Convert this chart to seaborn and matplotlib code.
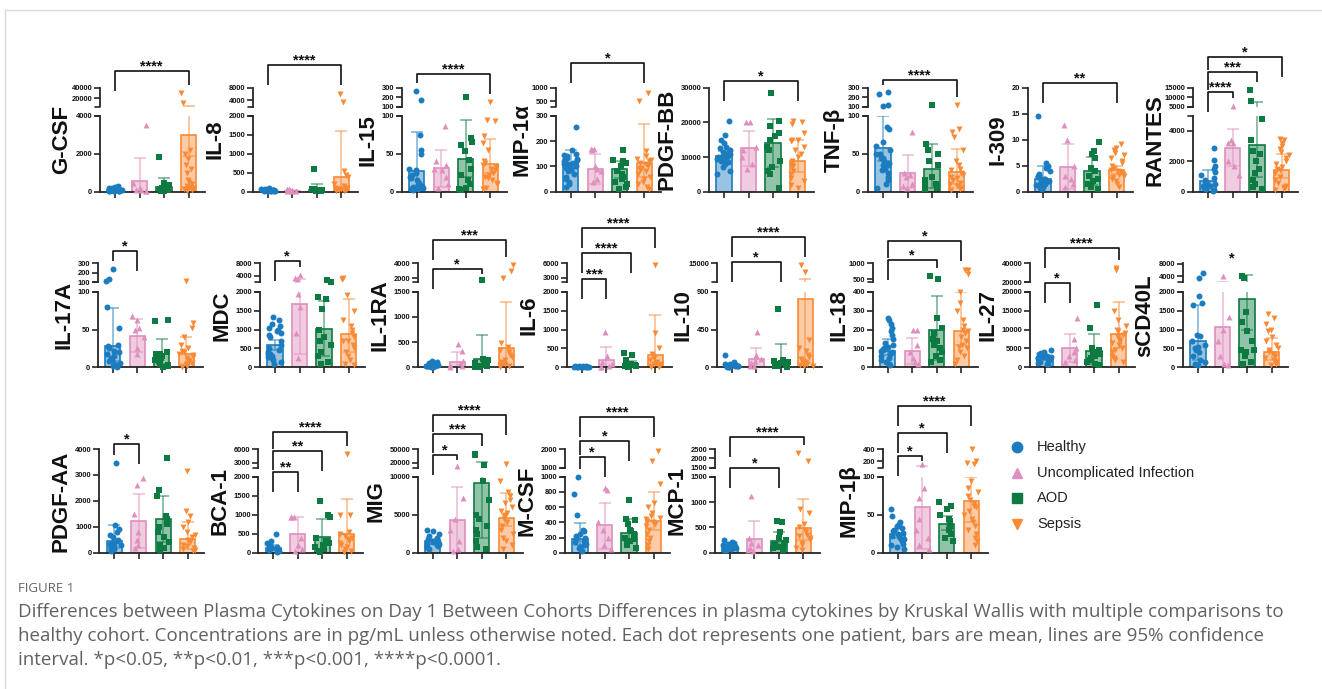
import numpy as np
import pandas as pd
import matplotlib
matplotlib.use("Agg")
import matplotlib.pyplot as plt
from matplotlib.lines import Line2D
from matplotlib.colors import to_rgba
import seaborn as sns

GROUPS = ["Healthy", "Uncomplicated Infection", "AOD", "Sepsis"]
COLORS = ["#1b7cc0", "#df8fbe", "#0c7a41", "#f98a35"]
MARKERS = ["o", "^", "s", "v"]

names = ["G-CSF", "IL-8", "IL-15", "MIP-1α", "PDGF-BB", "TNF-β", "I-309", "RANTES",
         "IL-17A", "MDC", "IL-1RA", "IL-6", "IL-10", "IL-18", "IL-27", "sCD40L",
         "PDGF-AA", "BCA-1", "MIG", "M-CSF", "MCP-1", "MIP-1β"]

means = [[110, 550, 230, 3000], [30, 30, 50, 380], [27, 31, 43, 37], [113, 90, 88, 113],
         [10300, 12500, 14000, 8800], [57, 25, 30, 26], [2.5, 4.8, 3.9, 4.2], [700, 2900, 3100, 1450],
         [28, 42, 18, 18], [590, 1670, 1020, 890], [40, 110, 160, 390], [15, 180, 70, 320],
         [20, 100, 65, 815], [84, 85, 195, 190], [2550, 5050, 4300, 8800], [685, 1070, 1800, 395],
         [455, 1225, 1295, 530], [122, 482, 410, 490], [1480, 4300, 9200, 4520], [180, 362, 262, 420],
         [112, 262, 238, 480], [25, 60, 38, 68]]

ci_lo = [[60, 0, 0, 1900], [20, 15, 0, 0], [5, 6, 20, 25], [95, 30, 55, 60],
         [9200, 7500, 7000, 5800], [40, 5, 5, 10], [1.5, 0.5, 1.2, 3.5], [400, 1700, 1000, 900],
         [8, 20, 5, 5], [450, 350, 300, 400], [25, 0, 0, 0], [8, 0, 0, 0],
         [5, 0, 0, 0], [65, 15, 40, 120], [2000, 1500, 1000, 5000], [200, 0, 1000, 200],
         [200, 200, 400, 150], [60, 0, 0, 0], [1200, 0, 2000, 3500], [100, 50, 150, 300],
         [90, 0, 100, 250], [20, 5, 30, 40]]

ci_hi = [[170, 1780, 730, 4100], [45, 50, 210, 1610], [79, 55, 95, 70], [165, 148, 120, 268],
         [11800, 17500, 21000, 14800], [100, 48, 63, 56], [5, 9.2, 6.7, 4.9], [1450, 4150, 7500, 2450],
         [79, 64, 38, 40], [720, 3000, 1750, 1800], [60, 310, 640, 1300], [25, 540, 170, 1380],
         [40, 230, 280, 3000], [148, 155, 375, 400], [3100, 8800, 8700, 17200], [1660, 2200, 4300, 770],
         [1050, 2250, 2200, 1180], [200, 950, 880, 1420], [1800, 8600, 21000, 7900], [390, 660, 450, 795],
         [150, 620, 410, 1055], [31, 120, 48, 100]]

healthy_pts = [
    [20, 40, 60, 80, 100, 120, 150, 180, 200, 250, 300, 60, 90, 30, 110, 70, 140, 50],
    [10, 20, 30, 40, 50, 60, 80, 100, 20, 15, 30, 45, 25, 35],
    [260, 165, 75, 55, 50, 30, 28, 25, 20, 15, 10, 8, 5, 3, 2, 12, 18, 6, 4, 22],
    [255, 165, 150, 145, 140, 135, 130, 125, 120, 115, 110, 105, 100, 95, 90, 85, 80, 70, 60, 50, 40, 30, 20, 130, 100, 120, 110],
    [20500, 16500, 15000, 14000, 13000, 12500, 12000, 11500, 11000, 10500, 10000, 9500, 9000, 8500, 8000, 7000, 6000, 5000, 11000, 10000, 9500, 10500, 9000, 12000],
    [250, 230, 120, 110, 85, 82, 65, 60, 55, 50, 45, 40, 38, 35, 30, 28, 25, 20, 15, 10, 5, 50, 45, 35],
    [14.5, 5.5, 5, 4.5, 4, 3.5, 3, 2.8, 2.5, 2.2, 2, 1.8, 1.5, 1.2, 1, 0.8, 0.5, 2, 3, 2.5, 1.5],
    [2850, 2100, 1700, 1500, 1300, 1100, 900, 800, 700, 600, 500, 400, 300, 200, 100, 50, 350, 250],
    [240, 130, 110, 80, 52, 30, 28, 25, 20, 15, 12, 10, 8, 5, 3, 2, 1, 18, 22, 6],
    [1330, 1250, 1150, 1100, 1000, 950, 900, 850, 800, 700, 600, 500, 450, 400, 350, 300, 250, 200, 150, 100, 1050, 300, 350, 280],
    [130, 100, 80, 60, 50, 40, 30, 20, 10, 5, 70, 45, 35, 25],
    [40, 30, 25, 20, 15, 10, 5, 3, 18, 12, 8, 22],
    [150, 60, 40, 30, 25, 20, 15, 10, 5, 3, 35, 12, 8],
    [260, 250, 230, 210, 190, 170, 150, 130, 120, 110, 100, 90, 80, 70, 60, 50, 40, 30, 20, 10, 95, 85],
    [4500, 4000, 3800, 3500, 3200, 3000, 2800, 2500, 2200, 2000, 1800, 1500, 1200, 1000, 800, 3300, 2700, 2400],
    [5000, 3500, 1880, 1700, 1650, 860, 820, 600, 500, 450, 400, 300, 200, 150, 100, 50, 700, 550],
    [3470, 1050, 900, 800, 700, 600, 500, 400, 350, 300, 250, 200, 150, 100, 50, 450],
    [480, 300, 250, 200, 150, 120, 100, 80, 60, 40, 20, 170],
    [3000, 2800, 2500, 2200, 2000, 1800, 1600, 1400, 1200, 1000, 900, 800, 700, 500, 1500, 1100],
    [1000, 770, 500, 300, 280, 250, 220, 200, 180, 160, 140, 120, 100, 80, 60, 40, 20],
    [250, 220, 200, 180, 160, 140, 120, 100, 90, 80, 70, 60, 50, 130, 110],
    [57, 48, 40, 38, 35, 32, 30, 28, 25, 22, 20, 18, 15, 12, 10, 8, 5, 26, 23],
]

uncomp_pts = [
    [3500, 450, 80, 50, 100, 200, 30],
    [70, 60, 40, 20, 10, 30, 50],
    [87, 35, 30, 28, 20, 10, 5, 40],
    [168, 168, 165, 100, 80, 40, 50, 90],
    [20000, 20000, 13000, 12000, 10000, 8000, 6500],
    [78, 25, 22, 20, 10, 8, 5],
    [12.8, 10, 5, 3, 2.5, 1.5, 1],
    [5300, 3400, 3200, 3200, 2000, 1700, 1100],
    [68, 62, 52, 50, 40, 25, 18],
    [4200, 3500, 3000, 1950, 1600, 900, 250],
    [460, 330, 120, 50, 20, 10, 80],
    [930, 300, 150, 80, 40, 20, 10],
    [420, 150, 100, 80, 50, 20, 10],
    [200, 200, 120, 80, 50, 30, 15],
    [13000, 7500, 5000, 4000, 3000, 2000, 1500],
    [4000, 1330, 1000, 700, 300, 100, 50],
    [2900, 2600, 1500, 800, 500, 300, 200],
    [950, 950, 950, 400, 200, 100, 50],
    [13500, 7200, 4500, 3000, 1500, 500, 200],
    [850, 830, 400, 300, 200, 100, 50],
    [1120, 300, 200, 150, 100, 50, 30],
    [160, 85, 72, 45, 30, 20, 10, 5],
]

aod_pts = [
    [1820, 480, 300, 250, 150, 120, 100, 60, 40, 200, 350, 80, 30],
    [600, 80, 60, 40, 30, 20, 10, 50, 30, 20, 40],
    [200, 71, 65, 62, 54, 42, 30, 22, 15, 10, 5, 2, 3],
    [165, 125, 120, 115, 100, 80, 70, 60, 50, 40, 30, 20, 10],
    [28500, 20500, 19000, 17000, 16000, 15000, 13000, 12000, 9000, 7000, 6000, 5000, 1000],
    [115, 63, 55, 50, 40, 35, 20, 15, 10, 8, 5, 3],
    [9.5, 7.8, 7.3, 6.5, 4.5, 4, 3, 2.5, 2, 1.5, 1, 0.5],
    [14000, 8000, 4800, 3400, 2700, 2000, 1500, 1200, 800, 500, 300, 200, 2500],
    [62, 61, 20, 18, 17, 15, 12, 10, 8, 5, 3, 2, 1],
    [2800, 2220, 1850, 1800, 1550, 1000, 800, 700, 400, 300, 150, 100, 600],
    [1800, 170, 150, 100, 80, 50, 30, 20, 10, 5, 60],
    [380, 320, 180, 100, 60, 40, 30, 20, 10, 5, 50],
    [700, 90, 70, 60, 50, 40, 30, 20, 10, 5, 40],
    [600, 520, 260, 210, 180, 150, 120, 100, 80, 60, 40, 30, 140],
    [16500, 10500, 5000, 4500, 4000, 3500, 3000, 2500, 2000, 1500, 1000, 600],
    [4200, 3300, 1450, 950, 700, 470, 450, 400, 300, 150, 100, 1200],
    [3650, 2400, 2200, 1400, 1100, 1000, 800, 600, 400, 300, 200, 100, 1300],
    [1370, 1000, 950, 400, 300, 200, 150, 100, 50, 30, 250],
    [40000, 37000, 16000, 9500, 7000, 5000, 4500, 3500, 2500, 1500, 800, 500, 3000],
    [700, 450, 430, 380, 300, 280, 250, 200, 180, 150, 120, 100, 60],
    [620, 600, 400, 300, 260, 200, 180, 150, 120, 100, 80, 50],
    [67, 61, 57, 50, 45, 42, 38, 35, 30, 25, 20, 15],
]

sepsis_pts = [
    [30000, 10000, 2200, 2000, 1700, 1400, 1200, 1000, 600, 400, 300, 200, 150, 100, 80, 60, 250, 500, 120],
    [6000, 3500, 550, 450, 400, 200, 100, 80, 60, 40, 30, 20, 150, 90, 50, 70],
    [150, 95, 93, 73, 64, 55, 40, 38, 35, 30, 25, 22, 20, 18, 15, 12, 10, 5, 3, 28, 33],
    [800, 500, 160, 130, 125, 120, 110, 100, 95, 90, 85, 80, 70, 60, 50, 40, 30, 20, 10, 140, 115],
    [20500, 20000, 19500, 17000, 15000, 14500, 13000, 12000, 11000, 10000, 9000, 8000, 7000, 6000, 5000, 4000, 3000, 2000, 1000, 15000, 7500],
    [120, 82, 78, 72, 55, 40, 35, 30, 28, 25, 22, 20, 18, 15, 12, 10, 8, 5, 3, 2],
    [9.2, 8.5, 8, 7.5, 7, 6.5, 6, 5.5, 5, 4.5, 4, 3.8, 3.5, 3, 2.8, 2.5, 2, 1.5, 1, 4.2, 3.2],
    [3500, 3400, 3200, 3000, 2800, 2600, 2400, 2200, 2000, 1800, 1600, 1400, 1200, 1000, 800, 600, 400, 300, 200, 100, 1500],
    [110, 58, 52, 40, 30, 25, 20, 18, 16, 14, 12, 10, 8, 6, 4, 2, 1, 22],
    [3300, 3100, 2900, 1900, 1250, 1000, 900, 800, 700, 600, 500, 400, 300, 200, 100, 50, 1100, 1500, 700],
    [3800, 3000, 2000, 480, 400, 300, 250, 200, 150, 100, 80, 60, 40, 20, 10, 350],
    [5700, 900, 500, 350, 300, 250, 200, 150, 100, 80, 60, 40, 20, 10, 120],
    [13700, 8600, 330, 230, 200, 150, 100, 80, 60, 40, 30, 20, 10, 50, 120],
    [800, 800, 650, 400, 340, 300, 250, 220, 200, 180, 160, 140, 120, 100, 80, 60, 40, 20, 190, 110],
    [35000, 33000, 15000, 12500, 11000, 10000, 9000, 8500, 8000, 7000, 6500, 6000, 5000, 4500, 4000, 3000, 2500, 2000, 1500, 9500, 7500],
    [1420, 1300, 1150, 1000, 950, 800, 700, 600, 500, 450, 400, 350, 300, 250, 200, 150, 100, 50],
    [3150, 1600, 1400, 1200, 1000, 800, 700, 600, 500, 400, 300, 250, 200, 150, 100, 50],
    [5000, 1000, 980, 550, 500, 400, 350, 300, 250, 200, 150, 100, 50, 30, 450],
    [17000, 9500, 8000, 7500, 7000, 6500, 6000, 5500, 5000, 4500, 4000, 3500, 3000, 2500, 2000, 1500, 1000, 500, 4800, 5200],
    [1900, 1360, 900, 650, 480, 460, 440, 420, 400, 380, 350, 300, 250, 200, 150, 100, 50, 520, 600],
    [2260, 1860, 860, 780, 560, 500, 450, 400, 350, 300, 250, 200, 150, 100, 50, 320],
    [400, 210, 180, 160, 95, 85, 80, 75, 70, 65, 60, 55, 50, 45, 40, 35, 30, 25, 20, 15, 10, 62],
]

# broken y axes: lower segment 0..lower_max, upper segment upper_lim (None = not broken)
lower_max = [4000, 2000, 100, 300, 30000, 100, 20, 5000,
             100, 2000, 1500, 2000, 900, 400, 20000, 2000,
             4000, 2000, 10000, 1000, 1500, 100]
lower_ticks = [[0, 2000, 4000], [0, 500, 1000, 1500, 2000], [0, 50, 100], [0, 100, 200, 300],
               [0, 10000, 20000, 30000], [0, 50, 100], [0, 5, 10, 15, 20], [0, 2000, 4000],
               [0, 50, 100], [0, 500, 1000, 1500, 2000], [0, 500, 1000, 1500], [0, 500, 1000, 1500, 2000],
               [0, 450, 900], [0, 100, 200, 300, 400], [0, 5000, 10000, 15000, 20000], [0, 500, 1000, 1500, 2000],
               [0, 1000, 2000, 3000, 4000], [0, 500, 1000, 1500, 2000], [0, 5000, 10000],
               [0, 200, 400, 600, 800, 1000], [0, 500, 1000, 1500], [0, 50, 100]]
upper_lim = [(4000, 40000), (2000, 8000), (100, 300), (300, 1000), None, (100, 300), None, (5000, 15000),
             (100, 300), (2000, 8000), (1500, 4000), (2000, 6000), (900, 15000), (400, 1000), (20000, 40000), (2000, 8200),
             None, (2000, 6000), (10000, 50000), (1000, 2000), (1500, 2500), (100, 400)]
upper_ticks = [[20000, 40000], [4000, 8000], [100, 200, 300], [500, 1000], [], [100, 200, 300], [], [5000, 10000, 15000],
               [100, 200, 300], [4000, 8000], [2000, 4000], [3000, 6000], [15000], [500, 1000], [20000, 40000], [4000, 8000],
               [], [3000, 6000], [20000, 50000], [1000, 2000], [1500, 2000, 2500], [200, 400]]

# multiple comparisons vs healthy
sig_pairs = [
    [(0, 3, "****")], [(0, 3, "****")], [(0, 3, "****")], [(0, 3, "*")],
    [(0, 3, "*")], [(0, 3, "****")], [(0, 3, "**")],
    [(0, 1, "****"), (0, 2, "***"), (0, 3, "*")],
    [(0, 1, "*")], [(0, 1, "*")], [(0, 2, "*"), (0, 3, "***")],
    [(0, 1, "***"), (0, 2, "****"), (0, 3, "****")],
    [(0, 2, "*"), (0, 3, "****")], [(0, 2, "*"), (0, 3, "*")],
    [(0, 1, "*"), (0, 3, "****")], [],
    [(0, 1, "*")], [(0, 1, "**"), (0, 2, "**"), (0, 3, "****")],
    [(0, 1, "*"), (0, 2, "***"), (0, 3, "****")],
    [(0, 1, "*"), (0, 2, "*"), (0, 3, "****")],
    [(0, 2, "*"), (0, 3, "****")],
    [(0, 1, "*"), (0, 2, "*"), (0, 3, "****")],
]

# ---------------- layout (pixels) ----------------
W, H = 1322, 689
ROW_Y = [(87.7, 106.5, 115.7, 191.7), (263.3, 282.3, 291.7, 367.3), (449, 467.5, 476.7, 552.7)]
panel_row = [0] * 8 + [1] * 8 + [2] * 6
panel_x = [100, 252.7, 401.7, 555.7, 709, 868, 1028, 1193,
           97.7, 260, 417.7, 566.7, 716.7, 872.7, 1030, 1183,
           99.3, 258.3, 417.7, 565, 715, 882.7]
bracket_y = [[71], [65], [74], [63.3], [80.7], [80], [82.7], [91.7, 71.7, 57.3],
             [251], [261], [269.3, 240], [279, 253.3, 228.3], [261.7, 237.3], [260, 240.7], [282.7, 248.3], [],
             [444], [471.7, 450.7, 432.3], [455, 434, 415], [457.3, 440.7, 416.7], [467.7, 437.3], [455.7, 433.3, 405.7]]
UNIT = 24.5
XLIM = (-15 / UNIT, 3 + 16.5 / UNIT)
AX_W = (XLIM[1] - XLIM[0]) * UNIT
AXC = "#262626"
CAP = 6 / UNIT

np.random.seed(7)
sns.set_style("ticks")
plt.rcParams["font.family"] = ["Liberation Sans", "DejaVu Sans"]

fig = plt.figure(figsize=(W / 100, H / 100), dpi=100)


def fx(px):
    return px / W


def fy(py):
    return 1 - py / H


def add_ax(x, top, bottom):
    return fig.add_axes([fx(x), fy(bottom), AX_W / W, (bottom - top) / H])


def val_px(i, v):
    ut, ub, lt, z = ROW_Y[panel_row[i]]
    if upper_lim[i] is None:
        return z - v / lower_max[i] * (z - ut)
    if v <= lower_max[i]:
        return z - v / lower_max[i] * (z - lt)
    lo, hi = upper_lim[i]
    return ub - (v - lo) / (hi - lo) * (ub - ut)


def gx(i, g):
    return panel_x[i] + (g - XLIM[0]) * UNIT


def fig_line(xs, ys, **kw):
    fig.add_artist(Line2D([fx(v) for v in xs], [fy(v) for v in ys], **kw))


for i, name in enumerate(names):
    ut, ub, lt, z = ROW_Y[panel_row[i]]
    x0 = panel_x[i]
    broken = upper_lim[i] is not None
    ax = add_ax(x0, lt if broken else ut, z)
    segs = [(ax, 0, lower_max[i], lower_ticks[i])]
    if broken:
        ax_up = add_ax(x0, ut, ub)
        segs.append((ax_up, upper_lim[i][0], upper_lim[i][1], upper_ticks[i]))

    pts = [healthy_pts[i], uncomp_pts[i], aod_pts[i], sepsis_pts[i]]
    df = pd.DataFrame({"group": np.repeat(GROUPS, [len(p) for p in pts]),
                       "value": np.concatenate(pts).astype(float)})
    dm = pd.DataFrame({"group": GROUPS, "mean": means[i]})

    sns.barplot(data=dm, x="group", y="mean", order=GROUPS, hue="group", hue_order=GROUPS,
                palette=dict(zip(GROUPS, COLORS)), width=0.62, errorbar=None,
                legend=False, saturation=1, ax=ax)
    for p in ax.patches:
        g = int(round(p.get_x() + p.get_width() / 2))
        p.set_facecolor(to_rgba(COLORS[g], 0.45))
        p.set_edgecolor(COLORS[g])
        p.set_linewidth(1.2)
        p.set_zorder(1)

    for a, lo, hi, ticks in segs:
        for g in range(4):
            m = means[i][g]
            ec = to_rgba(COLORS[g], 0.6)
            a.errorbar(g, m, yerr=[[m - ci_lo[i][g]], [ci_hi[i][g] - m]], fmt="none",
                       ecolor=ec, elinewidth=1.1, capsize=0, zorder=2)
            caps = [c for c in (ci_lo[i][g], ci_hi[i][g]) if lo < c <= hi]
            if caps:
                a.hlines(caps, g - CAP, g + CAP, color=ec, lw=1.1, zorder=2)
            sub = df[(df.group == GROUPS[g]) & (df.value > (lo if a is not ax else -1)) & (df.value <= hi)]
            if len(sub):
                sns.stripplot(data=sub, x="group", y="value", order=GROUPS, color=COLORS[g],
                              marker=MARKERS[g], size=4.3, jitter=0.3, linewidth=0,
                              clip_on=False, zorder=3, ax=a)
        a.set_xlim(XLIM)
        a.set_ylim(lo, hi)
        a.set_xlabel("")
        a.set_ylabel("")
        a.set_yticks(ticks, labels=[f"{t:g}" for t in ticks], fontsize=5.4, fontweight="bold")
        a.tick_params(axis="y", length=4, width=1.2, pad=1.5, color=AXC, labelcolor="#111111")
        sns.despine(ax=a)
        a.spines["left"].set_linewidth(1.3)
        a.spines["left"].set_color(AXC)
        a.patch.set_alpha(0)

    ax.set_xticks(range(4), labels=[""] * 4)
    ax.tick_params(axis="x", length=4, width=1.2, color=AXC)
    ax.spines["bottom"].set_linewidth(1.3)
    ax.spines["bottom"].set_color(AXC)
    if broken:
        ax_up.spines["bottom"].set_visible(False)
        ax_up.set_xticks([])
        for yy in (ub, lt):
            fig_line([x0 - 5, x0], [yy, yy], color=AXC, lw=1.2)

    # y label, placed left of the lower segment's tick labels
    nch = max(len(f"{t:g}") for t in lower_ticks[i])
    x_right = x0 - 6 - 4.1 * nch - 5
    fig.text(fx(x_right), fy((ut + z) / 2), name, rotation=90, ha="right", va="center",
             fontsize=16, fontweight="bold", color="#111111")

    # significance brackets
    pairs = sig_pairs[i]
    order = sorted(range(len(pairs)), key=lambda k: -bracket_y[i][k])
    prev = None
    for k in order:
        g1, g2, lab = pairs[k]
        by = bracket_y[i][k]

        def leg(g):
            top = max(pts[g] + [ci_hi[i][g]])
            return max(by + 5, min(val_px(i, top) - 8, by + 20))

        lb = leg(g1)
        if prev is not None:
            lb = min(lb, prev - 2)
        rb = leg(g2)
        fig_line([gx(i, g1), gx(i, g1), gx(i, g2), gx(i, g2)], [lb, by, by, rb],
                 color="#111111", lw=1.2, solid_capstyle="butt")
        fig.text(fx((gx(i, g1) + gx(i, g2)) / 2), fy(by - 0.5), lab, ha="center", va="baseline",
                 fontsize=10.5, fontweight="bold", color="#111111")
        prev = by

# lone significance mark on sCD40L
fig.text(fx(gx(15, 1.4)), fy(262), "*", ha="center", va="baseline", fontsize=10.5,
         fontweight="bold", color="#111111")

# legend
for g in range(4):
    yy = 447 + g * 25.7
    fig.add_artist(Line2D([fx(1017)], [fy(yy)], marker=MARKERS[g], color=COLORS[g],
                          markersize=7.5, linestyle="none"))
    fig.text(fx(1037), fy(yy), GROUPS[g], ha="left", va="center", fontsize=10.5, color="#222222")

# page frame
fig_line([5, W], [10, 10], color="#d9d9d9", lw=1)
fig_line([5, 5], [10, H], color="#d9d9d9", lw=1)

# caption
cap_lines = ["Differences between Plasma Cytokines on Day 1 Between Cohorts Differences in plasma cytokines by Kruskal Wallis with multiple comparisons to",
             "healthy cohort. Concentrations are in pg/mL unless otherwise noted. Each dot represents one patient, bars are mean, lines are 95% confidence",
             "interval. *p<0.05, **p<0.01, ***p<0.001, ****p<0.0001."]
fig.text(fx(18), fy(588), "FIGURE 1", ha="left", va="center", fontsize=9.5, color="#666666",
         family=["Open Sans", "DejaVu Sans"])
cap_texts = [fig.text(fx(18), fy(612 + 24 * k), s, ha="left", va="center", fontsize=11.5,
                      color="#616161", family=["Open Sans", "DejaVu Sans"])
             for k, s in enumerate(cap_lines)]
renderer = fig.canvas.get_renderer()
wpx = cap_texts[0].get_window_extent(renderer).width
fs = 11.5 * 1272 / wpx
for t in cap_texts:
    t.set_fontsize(fs)

fig.savefig("out.png", dpi=100)
